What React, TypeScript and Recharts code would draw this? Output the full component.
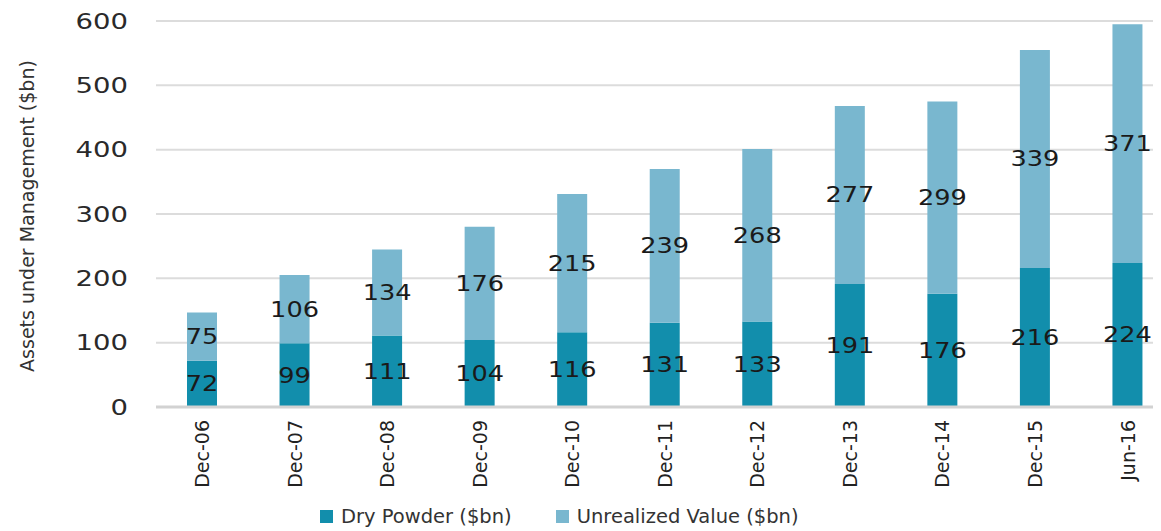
import { Bar, BarChart, CartesianGrid, LabelList, Legend, XAxis, YAxis } from "recharts";

const categories = ["Dec-06", "Dec-07", "Dec-08", "Dec-09", "Dec-10", "Dec-11", "Dec-12", "Dec-13", "Dec-14", "Dec-15", "Jun-16"];
const dryPowder = [72, 99, 111, 104, 116, 131, 133, 191, 176, 216, 224];
const unrealizedValue = [75, 106, 134, 176, 215, 239, 268, 277, 299, 339, 371];
const yTicks = [0, 100, 200, 300, 400, 500, 600];

const DRY = "#128eac";
const UNREALIZED = "#79b7cf";
const FONT = "'DejaVu Sans', sans-serif";

const chartData = categories.map((period, i) => ({
  period,
  dry: dryPowder[i],
  unrealized: unrealizedValue[i],
}));

// the source text is drawn a bit wide, so stretch it horizontally
function YTick({ x, y, payload }: any) {
  return (
    <text
      transform={`translate(${x},${y}) scale(1.25,1)`}
      dy="0.35em"
      textAnchor="end"
      fontSize={22}
      fill="#2a2a2a"
      fontFamily={FONT}
    >
      {payload.value}
    </text>
  );
}

function XTick({ x, y, payload }: any) {
  return (
    <g transform={`translate(${x},${y})`}>
      <text transform="rotate(-90)" textAnchor="end" dy="0.36em" fontSize={19} fill="#222" fontFamily={FONT}>
        {payload.value}
      </text>
    </g>
  );
}

function SegmentLabel({ x, y, width, height, value }: any) {
  const cx = Number(x) + Number(width) / 2;
  const cy = Number(y) + Number(height) / 2;
  return (
    <text
      transform={`translate(${cx},${cy}) scale(1.22,1)`}
      dy="0.35em"
      textAnchor="middle"
      fontSize={21}
      fill="#1a1a1a"
      fontFamily={FONT}
    >
      {value}
    </text>
  );
}

function LegendBox() {
  const item = (color: string, label: string, gap: number) => (
    <span style={{ display: "inline-flex", alignItems: "center", marginRight: gap }}>
      <span style={{ width: 13, height: 13, background: color, marginRight: 8, display: "inline-block" }} />
      <span>{label}</span>
    </span>
  );
  return (
    <div style={{ height: 30, paddingLeft: 320, fontFamily: FONT, fontSize: 19.5, color: "#333", display: "flex", alignItems: "center" }}>
      {item(DRY, "Dry Powder ($bn)", 44)}
      {item(UNREALIZED, "Unrealized Value ($bn)", 0)}
    </div>
  );
}

export default function App() {
  return (
    <div style={{ marginLeft: -8, marginTop: -8, width: 1161, height: 531, overflow: "hidden", background: "#fff" }}>
      <BarChart
        width={1175}
        height={531}
        data={chartData}
        margin={{ top: 21, right: 1, left: 0, bottom: 0 }}
        style={{ fontFamily: FONT }}
      >
        <CartesianGrid vertical={false} stroke="#dcdcdc" strokeWidth={2} />
        <XAxis
          dataKey="period"
          interval={0}
          height={94}
          tickLine={false}
          tickMargin={7}
          axisLine={{ stroke: "#d2d2d2", strokeWidth: 3 }}
          tick={<XTick />}
        />
        <YAxis
          domain={[0, 600]}
          ticks={yTicks}
          width={156}
          axisLine={false}
          tickLine={false}
          tickMargin={22}
          tick={<YTick />}
          label={{
            content: () => (
              <text
                x={27}
                y={216}
                transform="rotate(-90, 27, 216)"
                textAnchor="middle"
                dy="0.35em"
                fontSize={19}
                fill="#333"
                fontFamily={FONT}
              >
                Assets under Management ($bn)
              </text>
            ),
          }}
        />
        <Legend verticalAlign="bottom" height={30} content={<LegendBox />} />
        <Bar dataKey="dry" stackId="a" fill={DRY} barSize={30} isAnimationActive={false}>
          <LabelList dataKey="dry" content={<SegmentLabel />} />
        </Bar>
        <Bar dataKey="unrealized" stackId="a" fill={UNREALIZED} barSize={30} isAnimationActive={false}>
          <LabelList dataKey="unrealized" content={<SegmentLabel />} />
        </Bar>
      </BarChart>
    </div>
  );
}
